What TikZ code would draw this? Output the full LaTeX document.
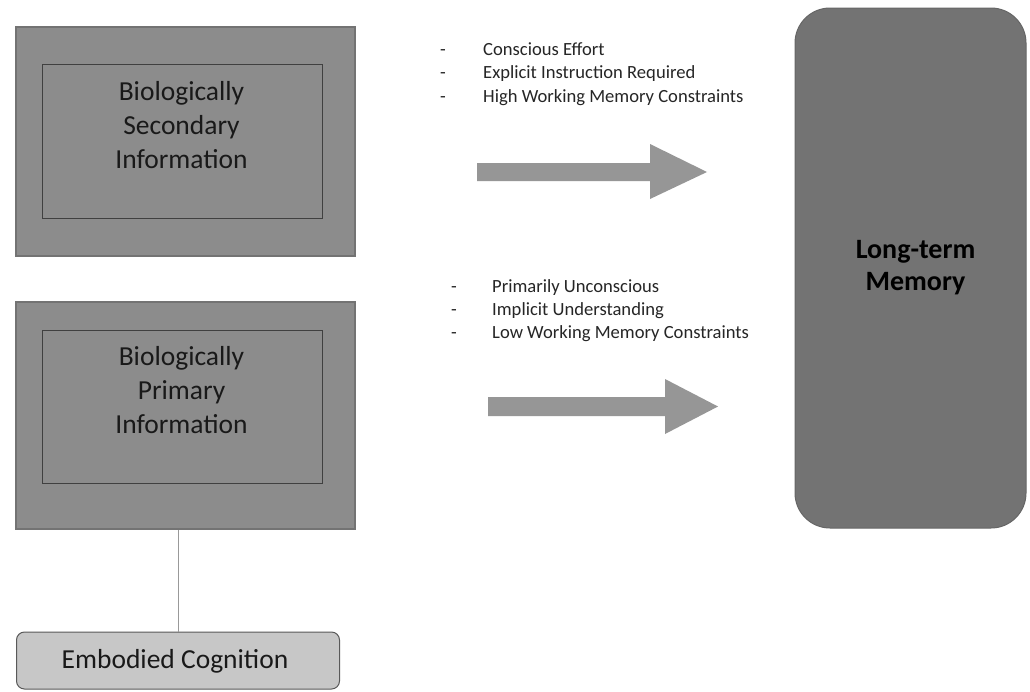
\documentclass[tikz,border=0pt]{standalone}
\usepackage{fontspec}
\setmainfont{Carlito}
\begin{document}
\begin{tikzpicture}[x=1pt,y=-1pt,
  outerbox/.style={draw=black!55, line width=1.2pt, fill=black!45, rectangle, inner sep=0pt},
  innerbox/.style={draw=black!75, line width=1pt, fill=black!45, rectangle, inner sep=0pt},
  boxtext/.style={inner sep=0pt, anchor=base, font=\fontsize{27.5}{34}\selectfont, text=black!90},
  listtext/.style={inner sep=0pt, anchor=base west, font=\fontsize{18.6}{23.5}\selectfont, text=black!85},
  ltmbox/.style={draw=black!60, line width=1pt, fill=black!55, rounded corners=35pt, rectangle, inner sep=0pt},
  embbox/.style={draw=black!65, line width=1pt, fill=black!22, rounded corners=8pt, rectangle, inner sep=0pt},
  bigarrow/.style={fill=black!41, draw=none},
  linkline/.style={draw=black!40, line width=1pt}
]
\useasboundingbox (0,0) rectangle (1030,691);
\fill[white] (0,0) rectangle (1030,691);

% top group
\node[outerbox, minimum width=339pt, minimum height=229pt] (outer1) at (185.5,141.5) {};
\node[innerbox, minimum width=280pt, minimum height=154pt] (inner1) at (182,141) {};
\node[boxtext] (t1) at (181.5,100) {\begin{tabular}[t]{@{}c@{}}Biologically\\Secondary\\Information\end{tabular}};

% bottom group
\node[outerbox, minimum width=339pt, minimum height=227pt] (outer2) at (185.5,415.5) {};
\node[innerbox, minimum width=280pt, minimum height=153pt] (inner2) at (182,406.5) {};
\node[boxtext] (t2) at (181.5,365) {\begin{tabular}[t]{@{}c@{}}Biologically\\Primary\\Information\end{tabular}};

% embodied cognition
\node[embbox, minimum width=323pt, minimum height=57pt] (emb) at (178,660.5) {};
\node[inner sep=0pt, anchor=base, font=\fontsize{27.5}{32}\selectfont, text=black!90] (embt) at (175,668) {Embodied Cognition};
\draw[linkline] (emb.north) -- (emb.north |- outer2.south);

% long-term memory
\node[ltmbox, minimum width=231pt, minimum height=520pt] (ltm) at (910.5,268) {};
\node[boxtext, font=\fontsize{28}{32}\selectfont\bfseries, text=black] (ltmt) at (915.5,258) {\begin{tabular}[t]{@{}c@{}}Long-term\\Memory\end{tabular}};

% lists
\node[listtext] (list1) at (440,55) {\begin{tabular}[t]{@{}l@{}}\makebox[43pt][l]{-}Conscious Effort\\\makebox[43pt][l]{-}Explicit Instruction Required\\\makebox[43pt][l]{-}High Working Memory Constraints\end{tabular}};
\node[listtext, font=\fontsize{18.6}{23}\selectfont] (list2) at (451,292) {\begin{tabular}[t]{@{}l@{}}\makebox[41pt][l]{-}Primarily Unconscious\\\makebox[41pt][l]{-}Implicit Understanding\\\makebox[41pt][l]{-}Low Working Memory Constraints\end{tabular}};

% arrows
\path[bigarrow] (477,163) -- (650,163) -- (650,144) -- (707,172) -- (650,199) -- (650,181) -- (477,181) -- cycle;
\path[bigarrow] (488,397) -- (665,397) -- (665,379) -- (718,406.5) -- (665,434) -- (665,416) -- (488,416) -- cycle;
\end{tikzpicture}
\end{document}
